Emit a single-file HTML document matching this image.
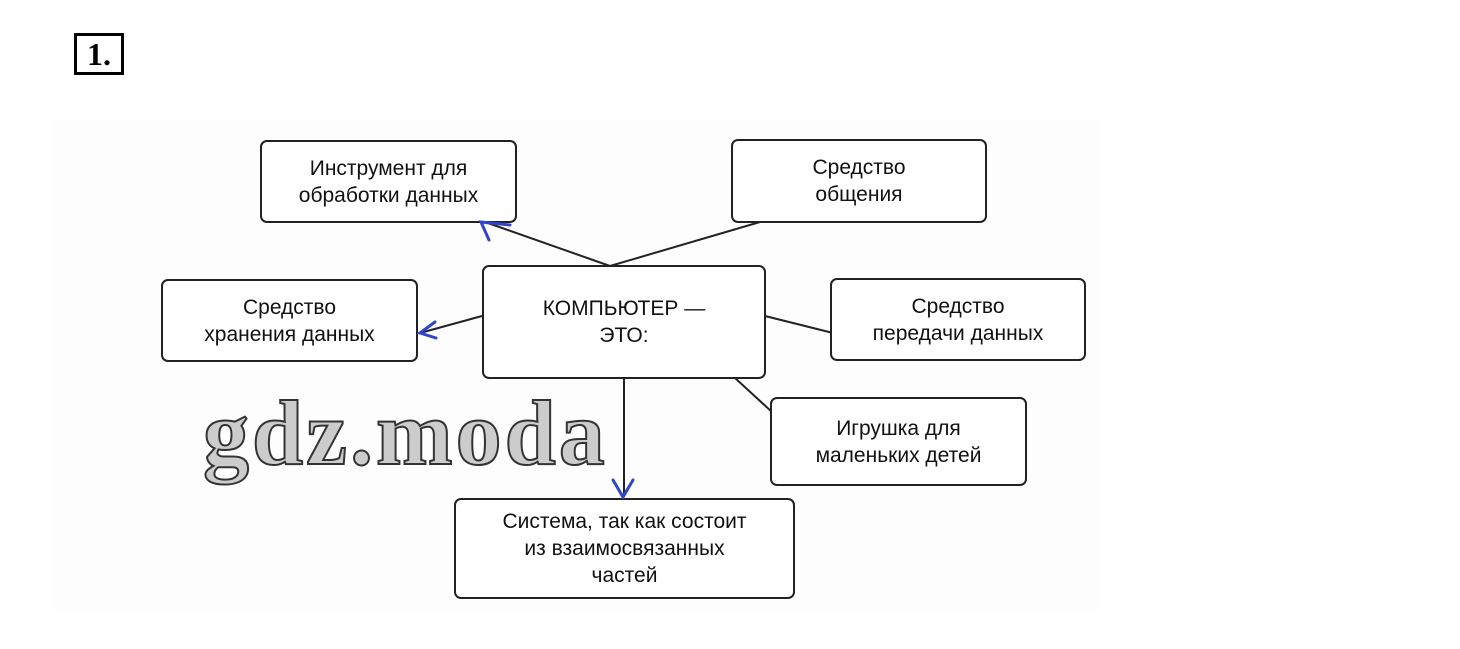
<!DOCTYPE html>
<html><head><meta charset="utf-8"><style>
body{margin:0;background:#fff;width:1460px;height:649px;overflow:hidden;position:relative;font-family:"Liberation Sans",sans-serif}
.b{position:absolute;border:2px solid #222;border-radius:7px;background:#fff;display:flex;align-items:center;justify-content:center;text-align:center;font-size:21px;line-height:27px;color:#111;box-sizing:border-box}
.num{position:absolute;left:74px;top:33px;width:50px;height:42px;border:3px solid #000;box-sizing:border-box;font:bold 32px "Liberation Serif",serif;display:flex;align-items:center;justify-content:center}
.wm{position:absolute;left:203px;top:380px;font:bold 92px "Liberation Serif",serif;color:#ccc;-webkit-text-stroke:2px #333;letter-spacing:3px}
</style></head><body>
<div style="position:absolute;left:55px;top:120px;width:1042px;height:490px;background:#fdfdfd"></div>
<div class="num">1.</div>
<svg width="1460" height="649" style="position:absolute;left:0;top:0">
<g stroke="#222" stroke-width="2" fill="none">
<line x1="610" y1="266" x2="485" y2="222"/>
<line x1="610" y1="266" x2="760" y2="222"/>
<line x1="482" y1="316" x2="420" y2="333"/>
<line x1="765" y1="316" x2="833" y2="333"/>
<line x1="735" y1="378" x2="772" y2="412"/>
<line x1="624" y1="378" x2="624" y2="497"/>
</g>
</svg>
<div class="b" style="left:260px;top:140px;width:257px;height:83px">Инструмент для<br>обработки данных</div>
<div class="b" style="left:731px;top:139px;width:256px;height:84px">Средство<br>общения</div>
<div class="b" style="left:161px;top:279px;width:257px;height:83px">Средство<br>хранения данных</div>
<div class="b" style="left:482px;top:265px;width:284px;height:114px">КОМПЬЮТЕР —<br>ЭТО:</div>
<div class="b" style="left:830px;top:278px;width:256px;height:83px">Средство<br>передачи данных</div>
<div class="b" style="left:770px;top:397px;width:257px;height:89px">Игрушка для<br>маленьких детей</div>
<div class="b" style="left:454px;top:498px;width:341px;height:101px">Система, так как состоит<br>из взаимосвязанных<br>частей</div>
<div class="wm">gdz.moda</div>
<svg width="1460" height="649" style="position:absolute;left:0;top:0">
<g stroke="#3344cc" stroke-width="3" fill="none" stroke-linecap="round">
<path d="M510 225 L481 222 L489 240"/>
<path d="M435 322 L420 333 L436 338"/>
<path d="M613 480 L623 497 L633 480"/>
</g>
</svg>
</body></html>
